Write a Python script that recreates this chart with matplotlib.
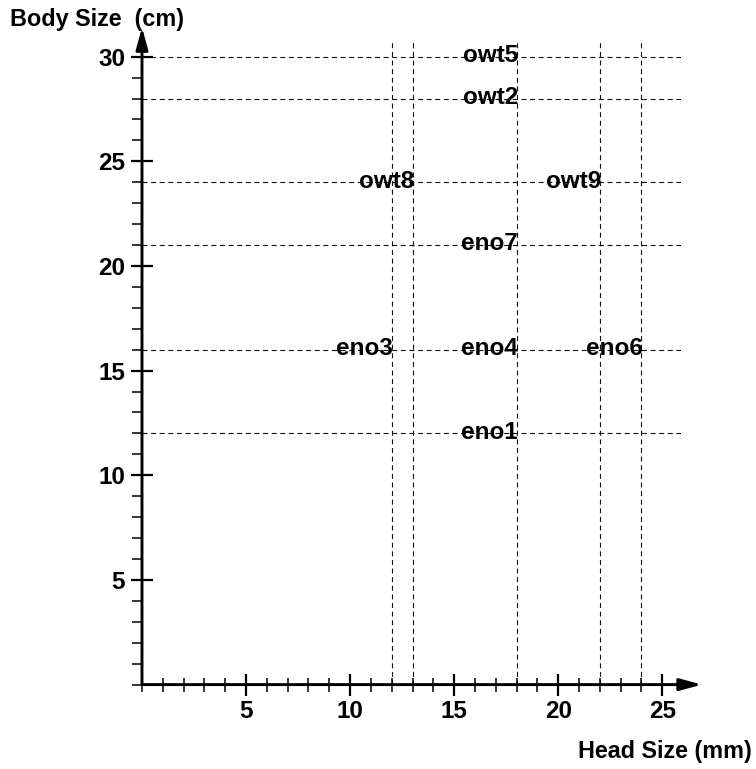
import matplotlib
matplotlib.use("Agg")
import matplotlib.pyplot as plt
from matplotlib.ticker import MultipleLocator

plt.rcParams['font.family'] = ['Liberation Sans', 'DejaVu Sans']
plt.rcParams['font.weight'] = 'bold'
plt.rcParams['lines.scale_dashes'] = False

# Data
names = ['eno1', 'eno3', 'eno4', 'eno6', 'eno7', 'owt8', 'owt9', 'owt2', 'owt5']
head_size = [18, 12, 18, 24, 18, 13, 22, 18, 18]
body_size = [12, 16, 16, 16, 21, 24, 24, 28, 30]
x_ticks = [5, 10, 15, 20, 25]
y_ticks = [5, 10, 15, 20, 25, 30]

W, H = 756, 769
fig = plt.figure(figsize=(W / 100, H / 100), dpi=100)
ax = fig.add_axes([142 / W, 1 - 684.6 / H, 539 / W, 643 / H])
ax.set_xlim(0, 25.9)
ax.set_ylim(0, 30.72)
for s in ax.spines.values():
    s.set_visible(False)

dash = (0, (3.6, 2.6))
for yv in sorted(set(body_size)):
    ax.axhline(yv, color='#111111', lw=0.8, linestyle=dash, zorder=1)
for xv in sorted(set(head_size)):
    ax.axvline(xv, color='#111111', lw=0.8, linestyle=dash, zorder=1)

for n, xv, yv in zip(names, head_size, body_size):
    ax.annotate(n, (xv, yv), xytext=(1, -3.8), textcoords='offset points',
                ha='right', va='baseline', fontsize=17.5, fontweight='bold', zorder=3)

# axes with arrows
arrow = dict(arrowstyle='-|>,head_length=0.95,head_width=0.26',
             lw=2.1, color='black', shrinkA=0, shrinkB=0, mutation_scale=14)
ax.annotate('', xy=(26.9, 0), xytext=(0, 0), xycoords='data',
            arrowprops=arrow, annotation_clip=False, zorder=4)
ax.annotate('', xy=(0, 31.4), xytext=(0, 0), xycoords='data',
            arrowprops=arrow, annotation_clip=False, zorder=4)

ax.set_xticks(x_ticks)
ax.set_yticks(y_ticks)
ax.xaxis.set_minor_locator(MultipleLocator(1))
ax.yaxis.set_minor_locator(MultipleLocator(1))
ax.tick_params(axis='both', which='major', direction='inout', length=15.5,
               width=1.6, labelsize=17.5, color='black')
ax.tick_params(axis='x', which='major', pad=3)
ax.tick_params(axis='y', which='major', pad=4.5)
ax.tick_params(axis='x', which='minor', direction='inout', length=10, width=1.1)
ax.tick_params(axis='y', which='minor', direction='out', length=7, width=1.1)
for lab in ax.get_xticklabels() + ax.get_yticklabels():
    lab.set_fontweight('bold')

fig.text(10 / W, 1 - 26 / H, 'Body Size  (cm)', ha='left', va='baseline',
         fontsize=16.8, fontweight='bold')
fig.text(752 / W, 1 - 758 / H, 'Head Size (mm)', ha='right', va='baseline',
         fontsize=16.8, fontweight='bold')

fig.savefig('out.png', dpi=100)
